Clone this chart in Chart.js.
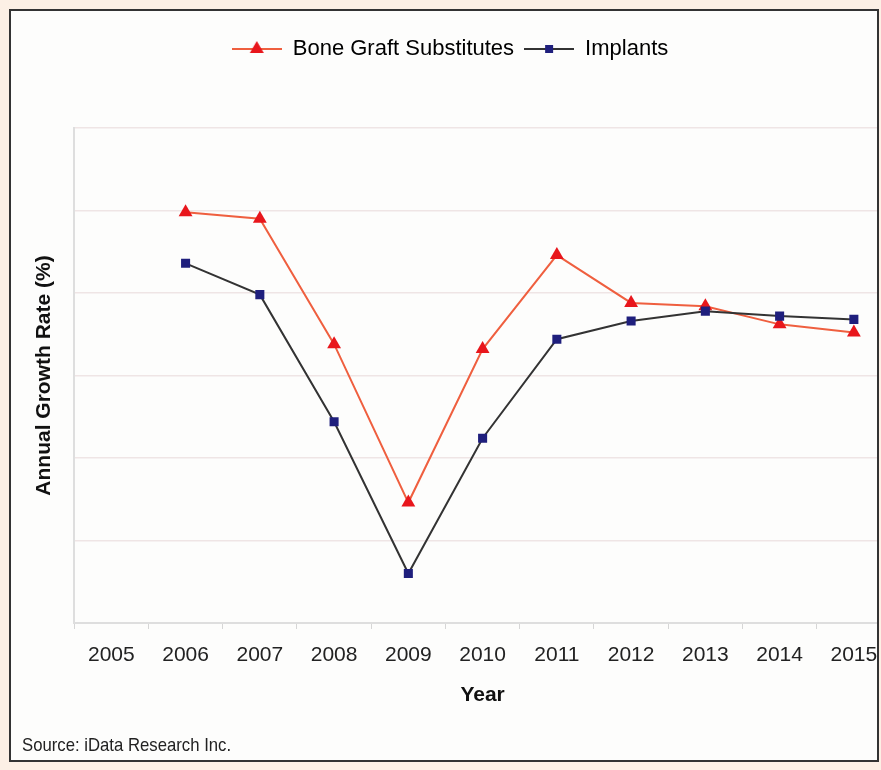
<!DOCTYPE html>
<html>
<head>
<meta charset="utf-8">
<title>Annual Growth Rate</title>
<script src="https://cdn.jsdelivr.net/npm/chart.js@4.4.1/dist/chart.umd.min.js"></script>
<style>
  html, body { margin: 0; padding: 0; background: #fcf0e5; }
  body { width: 881px; height: 770px; position: relative; overflow: hidden; }
  #marco {
    position: absolute; left: 9px; top: 9px;
    width: 866px; height: 749px;
    border: 2px solid #333; background: #fdfdfc; overflow: hidden;
  }
  #grafico { position: absolute; left: -2px; top: 0; }
  #fuente {
    position: absolute; left: 11px; top: 724px;
    font-family: "Liberation Sans", Arial, sans-serif; font-size: 19px; line-height: 20px;
    color: #222; transform: scaleX(0.88); transform-origin: left center; white-space: nowrap;
  }
</style>
</head>
<body>
<div id="marco">
  <canvas id="grafico" width="900" height="749"></canvas>
  <div id="fuente">Source: iData Research Inc.</div>
</div>
<script>
// categorias (eje horizontal)
const anios = ["2005", "2006", "2007", "2008", "2009", "2010", "2011", "2012", "2013", "2014", "2015"];

// valores (2005 sin dato)
const sustitutos = [null, 9.9, 9.5, 1.9, -7.7, 1.6, 7.3, 4.4, 4.2, 3.1, 2.6];
const implantes = [null, 6.8, 4.9, -2.8, -12.0, -3.8, 2.2, 3.3, 3.9, 3.6, 3.4];

// eje vertical sin etiquetas, solo lineas de guia
const yMin = -15;
const yMax = 15;
const yPaso = 5;

const fuente = '"Liberation Sans", Arial, sans-serif';
Chart.defaults.font.family = fuente;

// simbolo de leyenda: linea con el marcador al centro
function simbolo(colorLinea, dibujarMarca) {
  const c = document.createElement("canvas");
  c.width = 50;
  c.height = 18;
  const ctx = c.getContext("2d");
  ctx.strokeStyle = colorLinea;
  ctx.lineWidth = 2;
  ctx.beginPath();
  ctx.moveTo(0, 9);
  ctx.lineTo(50, 9);
  ctx.stroke();
  dibujarMarca(ctx);
  return c;
}

const simboloSustitutos = simbolo("#ef5f3f", (ctx) => {
  ctx.fillStyle = "#e8161c";
  ctx.beginPath();
  ctx.moveTo(25, 1);
  ctx.lineTo(32, 13);
  ctx.lineTo(18, 13);
  ctx.closePath();
  ctx.fill();
});
const simboloImplantes = simbolo("#333333", (ctx) => {
  ctx.fillStyle = "#1f1f7d";
  ctx.fillRect(21, 5, 8, 8);
});

// agrega espacio bajo la leyenda
const margenLeyenda = {
  id: "margenLeyenda",
  beforeInit(chart) {
    const fitOriginal = chart.legend.fit;
    chart.legend.fit = function () {
      fitOriginal.bind(chart.legend)();
      this.height += 58;
    };
  },
};

const chartData = {
  labels: anios,
  datasets: [
    {
      label: "Bone Graft Substitutes",
      data: sustitutos,
      borderColor: "#ef5f3f",
      borderWidth: 2,
      pointStyle: "triangle",
      pointRadius: 8,
      pointHoverRadius: 8,
      pointBackgroundColor: "#e8161c",
      pointBorderColor: "#e8161c",
      pointBorderWidth: 0,
      tension: 0,
      order: 1,
    },
    {
      label: "Implants",
      data: implantes,
      borderColor: "#333333",
      borderWidth: 2,
      pointStyle: "rect",
      pointRadius: 6.4,
      pointHoverRadius: 6.4,
      pointBackgroundColor: "#1f1f7d",
      pointBorderColor: "#1f1f7d",
      pointBorderWidth: 0,
      tension: 0,
      order: 0,
    },
  ],
};

const simbolos = [simboloSustitutos, simboloImplantes];

const config = {
  type: "line",
  data: chartData,
  options: {
    responsive: false,
    animation: false,
    layout: { padding: { top: 17, left: 0, right: 18, bottom: 48.6 } },
    plugins: {
      tooltip: { enabled: false },
      legend: {
        position: "top",
        labels: {
          usePointStyle: true,
          pointStyleWidth: 50,
          padding: 10,
          color: "#222",
          font: { size: 22 },
          generateLabels: (chart) =>
            chart.data.datasets.map((ds, i) => ({
              text: ds.label,
              pointStyle: simbolos[i],
              fillStyle: ds.borderColor,
              strokeStyle: ds.borderColor,
              lineWidth: 0,
              hidden: false,
              datasetIndex: i,
            })),
        },
      },
    },
    scales: {
      x: {
        type: "category",
        offset: true,
        grid: {
          offset: true,
          drawOnChartArea: false,
          drawTicks: true,
          tickLength: 6,
          color: "#d6d6d6",
        },
        border: { color: "#dedede", width: 2 },
        ticks: { padding: 14, color: "#222", font: { size: 21 }, maxRotation: 0, autoSkip: false },
        title: {
          display: true,
          text: "Year",
          color: "#111",
          font: { size: 21, weight: "bold" },
          padding: { top: 0, bottom: 4 },
        },
      },
      y: {
        min: yMin,
        max: yMax,
        ticks: { display: false, stepSize: yPaso },
        grid: { color: "#efe5e5", lineWidth: 1.5, drawTicks: false },
        border: { color: "#dedede", width: 2 },
        title: {
          display: true,
          text: "Annual Growth Rate (%)",
          color: "#111",
          font: { size: 21, weight: "bold" },
          padding: { top: 23, bottom: 17 },
        },
      },
    },
  },
  plugins: [margenLeyenda],
};

const grafico = new Chart(document.getElementById("grafico"), config);
</script>
</body>
</html>
